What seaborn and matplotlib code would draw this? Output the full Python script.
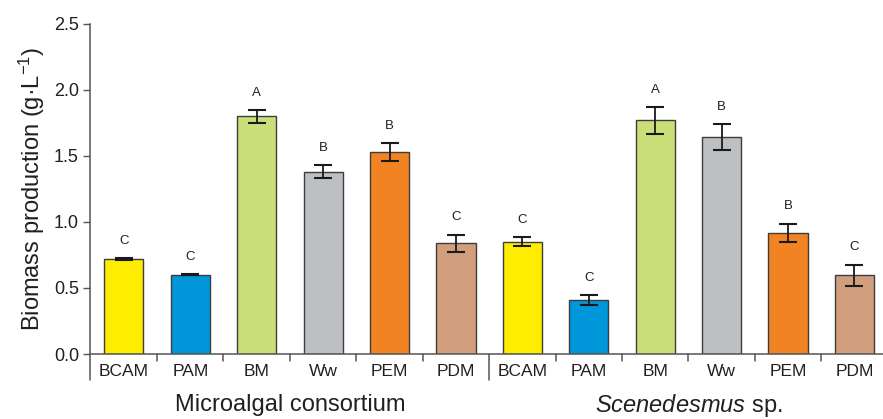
import matplotlib
matplotlib.use("Agg")
import matplotlib.pyplot as plt
import seaborn as sns
import pandas as pd
from matplotlib import font_manager

sns.set_theme(style="white")

names = [f.name for f in font_manager.fontManager.ttflist]
main_font = "Liberation Sans Narrow" if "Liberation Sans Narrow" in names else "Liberation Sans"
plt.rcParams['font.family'] = [main_font, 'DejaVu Sans']
plt.rcParams['mathtext.fontset'] = 'custom'
plt.rcParams['mathtext.rm'] = main_font
plt.rcParams['mathtext.it'] = main_font + ':italic'

# ---- data ----
media = ["BCAM", "PAM", "BM", "Ww", "PEM", "PDM"]
groups = ["Microalgal consortium", "Scenedesmus sp."]
consortium_values = [0.72, 0.60, 1.80, 1.38, 1.53, 0.84]
consortium_errors = [0.01, 0.005, 0.05, 0.05, 0.07, 0.065]
consortium_letters = ["C", "C", "A", "B", "B", "C"]
scenedesmus_values = [0.85, 0.41, 1.77, 1.645, 0.92, 0.595]
scenedesmus_errors = [0.035, 0.037, 0.10, 0.10, 0.068, 0.083]
scenedesmus_letters = ["C", "C", "A", "B", "B", "C"]
colors = ["#FFED00", "#0096DA", "#CADF77", "#BEBFC3", "#F28322", "#D19E7E"]

ids = [f"{m}_{g}" for g in (1, 2) for m in media]
df = pd.DataFrame({
    "id": ids,
    "label": media * 2,
    "value": consortium_values + scenedesmus_values,
    "err": consortium_errors + scenedesmus_errors,
    "letter": consortium_letters + scenedesmus_letters,
})
palette = dict(zip(ids, colors * 2))

fig = plt.figure(figsize=(8.83, 4.19), dpi=100)
ax = fig.add_axes([90/883, 1 - 354/419, 1 - 90/883, (354 - 24)/419])

sns.barplot(data=df, x="id", y="value", hue="id", palette=palette, legend=False,
            width=0.59, edgecolor="#3d3d3d", linewidth=1.0, ax=ax, saturation=1)

xs = list(range(len(df)))
ax.errorbar(xs, df["value"], yerr=df["err"], fmt="none", ecolor="#1a1a1a",
            elinewidth=1.3, capsize=6.5, capthick=1.5)

txtc = "#231f20"
for x, v, e, l in zip(xs, df["value"], df["err"], df["letter"]):
    ax.annotate(l, (x, v + e), xytext=(0, 8), textcoords="offset points",
                ha="center", va="bottom", fontsize=9.5, color=txtc)

ax.set_ylim(0, 2.5)
ax.set_xlim(-0.51, 11.43)
ax.set_yticks([0, 0.5, 1.0, 1.5, 2.0, 2.5])
ax.set_yticklabels(["0.0", "0.5", "1.0", "1.5", "2.0", "2.5"])
ax.set_xticks(xs)
ax.set_xticklabels(df["label"])
ax.tick_params(axis="x", length=0, pad=7, labelsize=12.5, labelcolor=txtc)
ax.tick_params(axis="y", length=5, width=1, color="#555555", direction="out",
               labelsize=13, labelcolor=txtc, pad=3, left=True)
ax.set_xlabel("")
ax.set_ylabel("Biomass production (g·L$^{-1}$)", fontsize=17, color=txtc, labelpad=5)

for s in ["top", "right"]:
    ax.spines[s].set_visible(False)
for s in ["left", "bottom"]:
    ax.spines[s].set_color("#555555")
    ax.spines[s].set_linewidth(1.1)
ax.spines["left"].set_bounds(0, 2.5)

trans = ax.get_xaxis_transform()
# minor ticks between bars
for xb in [0.5, 1.5, 2.5, 3.5, 4.5, 6.5, 7.5, 8.5, 9.5, 10.5]:
    ax.plot([xb, xb], [0, -0.022], transform=trans, color="#555555", lw=1.1, clip_on=False)
# group separators and y-axis extension
for xb in [-0.51, 5.5]:
    ax.plot([xb, xb], [0, -0.08], transform=trans, color="#555555", lw=1.1, clip_on=False)

ax.text(2.5, -0.155, "Microalgal consortium", transform=trans, ha="center", va="center",
        fontsize=17, color=txtc)
ax.text(8.5, -0.155, r"$\mathit{Scenedesmus}$ sp.", transform=trans, ha="center", va="center",
        fontsize=17, color=txtc)

fig.savefig("out.png", dpi=100)
